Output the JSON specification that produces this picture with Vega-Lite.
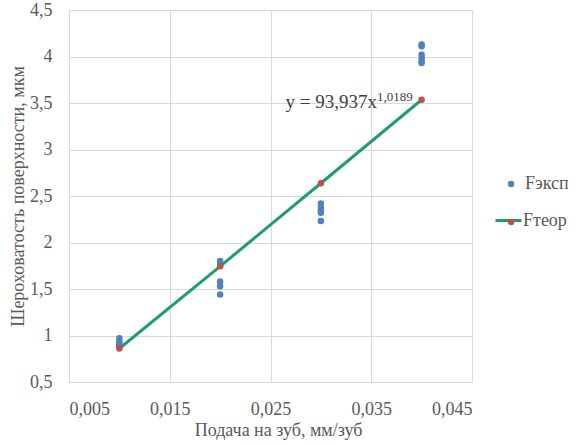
{
  "$schema": "https://vega.github.io/schema/vega-lite/v6.json",
  "width": 403,
  "height": 372,
  "autosize": "none",
  "padding": {"left": 69, "top": 10, "right": 104, "bottom": 62},
  "background": "white",
  "datasets": {
    "exp": [
      {"x": 0.01, "y": 0.97}, {"x": 0.01, "y": 0.94}, {"x": 0.01, "y": 0.91}, {"x": 0.01, "y": 0.89}, {"x": 0.01, "y": 0.88},
      {"x": 0.02, "y": 1.80}, {"x": 0.02, "y": 1.78}, {"x": 0.02, "y": 1.75}, {"x": 0.02, "y": 1.58}, {"x": 0.02, "y": 1.53}, {"x": 0.02, "y": 1.44},
      {"x": 0.03, "y": 2.42}, {"x": 0.03, "y": 2.37}, {"x": 0.03, "y": 2.34}, {"x": 0.03, "y": 2.32}, {"x": 0.03, "y": 2.23},
      {"x": 0.04, "y": 4.13}, {"x": 0.04, "y": 4.11}, {"x": 0.04, "y": 4.02}, {"x": 0.04, "y": 3.98}, {"x": 0.04, "y": 3.95}, {"x": 0.04, "y": 3.93}
    ],
    "teor": [
      {"x": 0.01, "y": 0.860},
      {"x": 0.02, "y": 1.744},
      {"x": 0.03, "y": 2.637},
      {"x": 0.04, "y": 3.535}
    ],
    "note": [{"label": "y = 93,937x", "power": "1,0189"}]
  },
  "layer": [
    {
      "data": {"name": "exp"},
      "mark": {"type": "circle", "size": 42, "opacity": 1},
      "encoding": {
        "x": {
          "field": "x", "type": "quantitative",
          "scale": {"domain": [0.005, 0.045], "nice": false, "zero": false},
          "axis": {
            "title": "Подача на зуб, мм/зуб",
            "values": [0.005, 0.015, 0.025, 0.035, 0.045],
            "format": ".3f",
            "labelFont": "Liberation Serif",
            "titleFont": "Liberation Serif",
            "labelPadding": 18,
            "titleX": 209, "titleY": 48, "titleBaseline": "middle"
          }
        },
        "y": {
          "field": "y", "type": "quantitative",
          "scale": {"domain": [0.5, 4.5], "nice": false, "zero": false},
          "axis": {
            "title": "Шероховатость поверхности, мкм",
            "values": [0.5, 1, 1.5, 2, 2.5, 3, 3.5, 4, 4.5],
            "format": ".1~f",
            "labelFont": "Liberation Serif",
            "titleFont": "Liberation Serif",
            "labelPadding": 17,
            "titleX": -51, "titleY": 186, "titleBaseline": "middle"
          }
        },
        "color": {
          "datum": "Fэксп",
          "scale": {"domain": ["Fэксп"], "range": ["#4f81bd"]},
          "legend": {"orient": "none", "legendX": 433, "legendY": 165, "title": null, "symbolSize": 42, "labelOffset": 5}
        }
      }
    },
    {
      "data": {"name": "teor"},
      "mark": {"type": "line", "strokeWidth": 3},
      "encoding": {
        "x": {"field": "x", "type": "quantitative"},
        "y": {"field": "y", "type": "quantitative"},
        "stroke": {
          "datum": "Fтеор",
          "scale": {"domain": ["Fтеор"], "range": ["#1f9e68"]},
          "legend": {"orient": "none", "legendX": 425, "legendY": 196, "title": null, "symbolType": "stroke", "symbolSize": 676, "symbolStrokeWidth": 3, "labelOffset": 0}
        }
      }
    },
    {
      "data": {"name": "teor"},
      "mark": {"type": "circle", "size": 42, "opacity": 1},
      "encoding": {
        "x": {"field": "x", "type": "quantitative"},
        "y": {"field": "y", "type": "quantitative"},
        "fill": {
          "datum": "dot",
          "scale": {"domain": ["dot"], "range": ["#c0504d"]},
          "legend": {"orient": "none", "legendX": 433, "legendY": 203, "title": null, "symbolSize": 42, "labelExpr": "''"}
        }
      }
    },
    {
      "data": {"name": "note"},
      "mark": {"type": "text", "align": "right", "baseline": "middle", "font": "Liberation Serif", "fontSize": 19, "fill": "#404040"},
      "encoding": {
        "x": {"datum": 0.03557, "type": "quantitative"},
        "y": {"datum": 3.516, "type": "quantitative"},
        "text": {"field": "label", "type": "nominal"}
      }
    },
    {
      "data": {"name": "note"},
      "mark": {"type": "text", "align": "left", "baseline": "middle", "font": "Liberation Serif", "fontSize": 13, "dy": -5, "fill": "#404040"},
      "encoding": {
        "x": {"datum": 0.03557, "type": "quantitative"},
        "y": {"datum": 3.516, "type": "quantitative"},
        "text": {"field": "power", "type": "nominal"}
      }
    }
  ],
  "config": {
    "font": "Liberation Serif",
    "locale": {"number": {"decimal": ",", "thousands": " ", "grouping": [3], "currency": ["", ""]}},
    "view": {"stroke": null},
    "axis": {
      "domain": false,
      "ticks": false,
      "grid": true,
      "gridColor": "#d9d9d9",
      "gridWidth": 1,
      "labelFontSize": 18,
      "labelColor": "#595959",
      "titleFontSize": 18,
      "titleFontWeight": "normal",
      "titleColor": "#595959"
    },
    "legend": {
      "labelFont": "Liberation Serif",
      "labelFontSize": 18,
      "labelColor": "#595959",
      "padding": 0
    }
  }
}
